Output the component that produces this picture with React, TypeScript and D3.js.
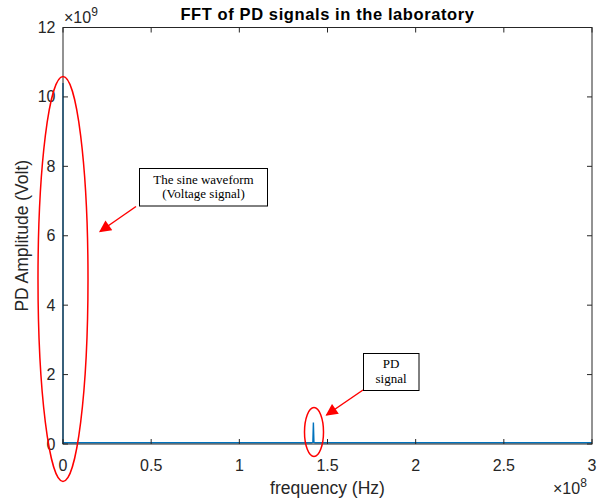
import React from "react";
import * as d3 from "d3";

const freqHz = [0, 60, 120, 1.0e6, 5.0e7, 1.0e8, 1.41e8, 1.417e8, 1.42e8, 1.423e8, 1.43e8, 2.0e8, 2.5e8, 3.0e8];
const amplitude = [0, 10.4e9, 0.04e9, 0.035e9, 0.035e9, 0.035e9, 0.035e9, 0.05e9, 0.62e9, 0.05e9, 0.035e9, 0.035e9, 0.035e9, 0.035e9];
const xTicks = [0, 0.5, 1, 1.5, 2, 2.5, 3];
const yTicks = [0, 2, 4, 6, 8, 10, 12];

const W = 604, H = 501;
const M = { left: 63, top: 27.5, right: 592, bottom: 444 };
const AX = "#262626";
const BLUE = "#0072BD";
const SANS = "Arial, 'Liberation Sans', Helvetica, sans-serif";
const SERIF = "'Times New Roman', 'Liberation Serif', serif";

export default function App() {
  const x = d3.scaleLinear().domain([0, 3e8]).range([M.left, M.right]);
  const y = d3.scaleLinear().domain([0, 12e9]).range([M.bottom, M.top]);
  const pts: [number, number][] = freqHz.map((f, i) => [f, amplitude[i]]);
  const line = d3.line<[number, number]>().x(d => x(d[0])).y(d => y(d[1]));
  const tl = 5;
  return (
    <svg width={W} height={H} style={{ position: "absolute", left: 0, top: 0, background: "#fff" }}>
      <defs>
        <marker id="ah2" viewBox="0 0 10 10" refX="9" refY="5" markerWidth="14" markerHeight="12" orient="auto" markerUnits="userSpaceOnUse">
          <path d="M0,0 L10,5 L0,10 z" fill="#ff0000" />
        </marker>
      </defs>
      <rect x={0} y={0} width={W} height={H} fill="#fff" />
      {/* data */}
      <path d={line(pts) || ""} fill="none" stroke={BLUE} strokeWidth={1.4} />
      {/* axes box */}
      <rect x={M.left} y={M.top} width={M.right - M.left} height={M.bottom - M.top} fill="none" stroke={AX} strokeWidth={1} />
      {xTicks.map(t => (
        <g key={"x" + t}>
          <line x1={x(t * 1e8)} x2={x(t * 1e8)} y1={M.bottom} y2={M.bottom - tl} stroke={AX} />
          <line x1={x(t * 1e8)} x2={x(t * 1e8)} y1={M.top} y2={M.top + tl} stroke={AX} />
          <text x={x(t * 1e8)} y={470.5} textAnchor="middle" fontFamily={SANS} fontSize={16} fill={AX}>{t}</text>
        </g>
      ))}
      {yTicks.map(t => (
        <g key={"y" + t}>
          <line x1={M.left} x2={M.left + tl} y1={y(t * 1e9)} y2={y(t * 1e9)} stroke={AX} />
          <line x1={M.right} x2={M.right - tl} y1={y(t * 1e9)} y2={y(t * 1e9)} stroke={AX} />
          <text x={55.5} y={y(t * 1e9) + 5.5} textAnchor="end" fontFamily={SANS} fontSize={16} fill={AX}>{t}</text>
        </g>
      ))}
      {/* exponents */}
      <text x={64} y={23} fontFamily={SANS} fontSize={16} fill={AX}>×10<tspan dy={-7} fontSize={12}>9</tspan></text>
      <text x={553} y={494} fontFamily={SANS} fontSize={16} fill={AX}>×10<tspan dy={-7} fontSize={12}>8</tspan></text>
      {/* labels */}
      <text x={327.5} y={19.5} textAnchor="middle" fontFamily={SANS} fontSize={16.5} fontWeight="bold" letterSpacing={0.6} fill="#000">FFT of PD signals in the laboratory</text>
      <text x={327.5} y={494} textAnchor="middle" fontFamily={SANS} fontSize={17.5} fill={AX}>frequency (Hz)</text>
      <text transform={`translate(28,${(M.top + M.bottom) / 2}) rotate(-90)`} textAnchor="middle" fontFamily={SANS} fontSize={17.5} fill={AX}>PD Amplitude (Volt)</text>
      {/* annotations */}
      <ellipse cx={63} cy={279} rx={25} ry={202.5} fill="none" stroke="#ff0000" strokeWidth={1.5} />
      <ellipse cx={314} cy={432} rx={9.5} ry={24.5} fill="none" stroke="#ff0000" strokeWidth={1.5} />
      <line x1={136} y1={206.5} x2={100} y2={231.5} stroke="#ff0000" strokeWidth={1.5} markerEnd="url(#ah2)" />
      <line x1={363} y1={390} x2={326.5} y2={415} stroke="#ff0000" strokeWidth={1.5} markerEnd="url(#ah2)" />
      <rect x={139.5} y={168.5} width={128} height={37.5} fill="#fff" stroke="#000" strokeWidth={1} />
      <text x={203.5} y={184} textAnchor="middle" fontFamily={SERIF} fontSize={13} fill="#000">The sine waveform</text>
      <text x={203.5} y={198} textAnchor="middle" fontFamily={SERIF} fontSize={13} fill="#000">(Voltage signal)</text>
      <rect x={363.5} y={353.5} width={55.5} height={37} fill="#fff" stroke="#000" strokeWidth={1} />
      <text x={391} y={367.5} textAnchor="middle" fontFamily={SERIF} fontSize={13} fill="#000">PD</text>
      <text x={391} y={382.5} textAnchor="middle" fontFamily={SERIF} fontSize={13} fill="#000">signal</text>
    </svg>
  );
}
